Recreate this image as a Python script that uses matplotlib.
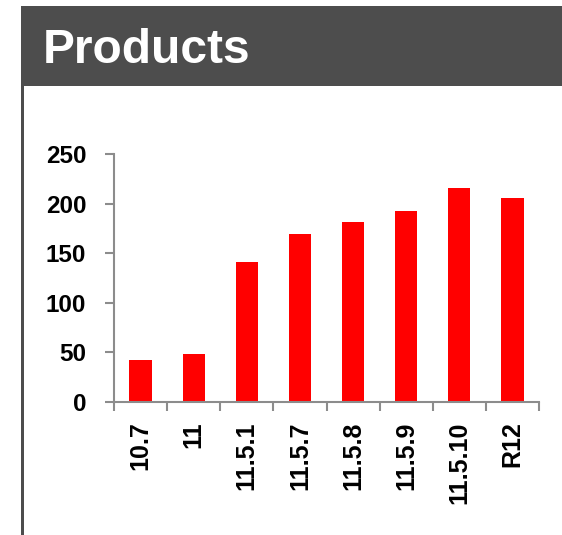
import matplotlib
matplotlib.use("Agg")
import matplotlib.pyplot as plt
from matplotlib.patches import Rectangle

categories = ["10.7", "11", "11.5.1", "11.5.7", "11.5.8", "11.5.9", "11.5.10", "R12"]
values = [42, 48, 141, 169, 181, 193, 216, 206]
yticks = [0, 50, 100, 150, 200, 250]
title = "Products"

plt.rcParams['font.family'] = ['Liberation Sans', 'DejaVu Sans']

W, H = 562, 535
fig = plt.figure(figsize=(W / 100, H / 100), dpi=100)
fig.patch.set_facecolor("white")

dark = "#4d4d4d"
# title bar
fig.patches.append(Rectangle((21 / W, 1 - 86 / H), 1 - 21 / W, 80 / H,
                             transform=fig.transFigure, facecolor=dark,
                             edgecolor="none", zorder=0))
# left border
fig.patches.append(Rectangle((21 / W, 0), 3 / W, 1 - 86 / H,
                             transform=fig.transFigure, facecolor=dark,
                             edgecolor="none", zorder=0))
fig.text(43 / W, 1 - 63 / H, title, color="white", fontsize=34.5,
         fontweight="bold", ha="left", va="baseline")

ax = fig.add_axes([114 / W, 1 - 402 / H, (539 - 114) / W, (402 - 154) / H])
x = list(range(len(categories)))
ax.bar(x, values, width=0.42, color="#ff0000", zorder=2)
ax.set_xlim(-0.5, len(categories) - 0.5)
ax.set_ylim(0, 250)
ax.set_yticks(yticks)
ax.set_yticklabels([str(v) for v in yticks], fontsize=17.5, fontweight="bold")

ax.set_xticks([i - 0.5 for i in range(len(categories) + 1)])
ax.set_xticklabels([])
ax.set_xticks(x, minor=True)
ax.set_xticklabels(categories, minor=True, rotation=90, fontsize=18,
                   fontweight="bold", va="top")
ax.tick_params(axis="x", which="minor", length=0, pad=14)
ax.tick_params(axis="x", which="major", length=6.5, width=1.5, color="#8c8c8c", direction="out")
ax.tick_params(axis="y", length=6.5, width=1.5, color="#8c8c8c", direction="out", pad=13.5)

for s in ["top", "right"]:
    ax.spines[s].set_visible(False)
for s in ["left", "bottom"]:
    ax.spines[s].set_color("#8c8c8c")
    ax.spines[s].set_linewidth(1.5)

fig.savefig("out.png", dpi=100, facecolor="white")
